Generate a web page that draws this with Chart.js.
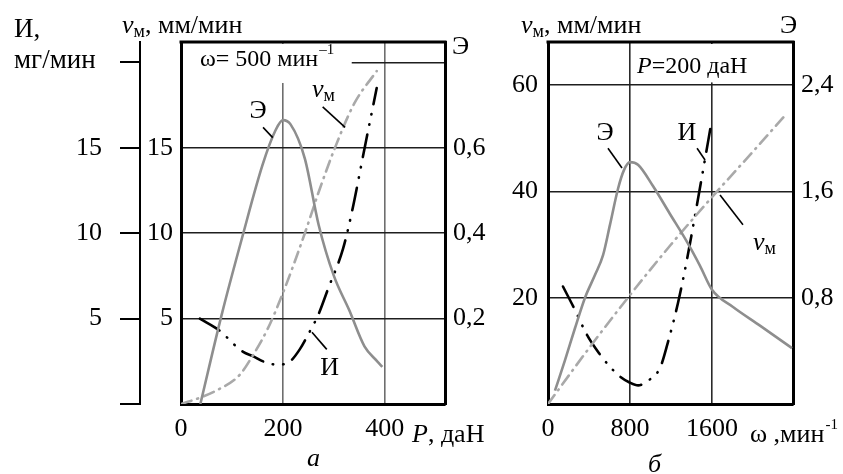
<!DOCTYPE html>
<html><head><meta charset="utf-8">
<script src="https://cdn.jsdelivr.net/npm/chart.js@4.4.1/dist/chart.umd.min.js"></script>
<style>
html,body{margin:0;padding:0;background:#fff;}
#wrap{position:relative;width:843px;height:474px;overflow:hidden;background:#fff;}
#chartA{position:absolute;left:0;top:0;}
#chartB{position:absolute;left:500px;top:0;}
</style></head><body>
<div id="wrap">
<canvas id="chartA" width="500" height="474"></canvas>
<canvas id="chartB" width="343" height="474"></canvas>
</div>
<script>
// ---------- Chart а : ω = 500 мин^-1, x = P, даН ----------
const aLoadE  = [38, 80, 120, 160, 185, 200, 215, 243, 270, 300, 330, 360, 385, 395];
const aEnergy = [0, 0.21, 0.39, 0.56, 0.64, 0.665, 0.655, 0.575, 0.42, 0.30, 0.22, 0.135, 0.10, 0.087];
const aLoadV  = [0, 40, 70, 115, 140, 170, 200, 243, 270, 302, 340, 384];
const aSpeed  = [0, 0.4, 0.8, 1.7, 2.8, 4.4, 6.5, 10, 12.4, 15, 17.6, 19.5];
const aLoadW  = [37, 80, 100, 122, 141, 165, 190, 214, 233, 250, 269, 288, 318, 335, 361, 384];
const aWear   = [5, 4.2, 3.6, 3.05, 2.8, 2.45, 2.3, 2.5, 3.2, 4.1, 5.2, 6.7, 9.1, 11.2, 15.1, 18.5];
const aXTicks = [0, 200, 400];
const aYTicks = [0, 5, 10, 15, 20];
const aETicks = [0.2, 0.4, 0.6];

// ---------- Chart б : P = 200 даН, x = ω, мин^-1 ----------
const bRpmE   = [68, 166, 263, 361, 458, 537, 605, 683, 741, 800, 878, 1024, 1190, 1356, 1483, 1600, 1805, 2068, 2380];
const bEnergy = [0.10, 0.33, 0.57, 0.80, 0.97, 1.12, 1.35, 1.62, 1.76, 1.82, 1.80, 1.64, 1.43, 1.22, 1.04, 0.86, 0.73, 0.59, 0.42];
const bRpmV   = [0, 400, 800, 1200, 1650, 2000, 2300];
const bSpeed  = [0, 10.5, 20.5, 30, 40, 47.5, 54];
const bRpmW   = [146, 263, 380, 500, 605, 700, 800, 880, 960, 1093, 1171, 1268, 1356, 1430, 1502, 1590];
const bWear   = [22.1, 17.7, 13, 9.5, 7, 5.2, 4, 3.5, 4.2, 6.8, 11.7, 19, 27.2, 35, 42.8, 52.5];
const bXTicks = [0, 800, 1600];
const bYTicks = [0, 20, 40, 60];
const bETicks = [0.8, 1.6, 2.4];

const FAM = '"Liberation Serif", "Times New Roman", serif';
const R = '26px ' + FAM, I = 'italic 26px ' + FAM, SUB = '18px ' + FAM;
const RB = '24px ' + FAM, IB = 'italic 24px ' + FAM, SUP = '15px ' + FAM;
const tickFont = {family: FAM, size: 26};

const pts = (xs, ys) => xs.map((x, i) => ({x, y: ys[i]}));
const fixTicks = vals => s => { s.ticks = vals.map(v => ({value: v})); };
const comma = v => Number(v).toFixed(1).replace('.', ',');

const styleE = {borderColor:'#8e8e8e', borderWidth:2.6, pointRadius:0, cubicInterpolationMode:'monotone', fill:false};
const styleV = {borderColor:'#a9a9a9', borderWidth:2.6, pointRadius:0, cubicInterpolationMode:'monotone', fill:false, borderDash:[11,6,1,6], borderCapStyle:'round'};
const styleW = {borderColor:'#000', borderWidth:2.6, pointRadius:0, cubicInterpolationMode:'monotone', fill:false, borderDash:[23,10,0.5,10,0.5,10], borderCapStyle:'round'};

function runs(ctx, x, y, parts) {
  let cx = x;
  for (const [t, f, dy] of parts) {
    ctx.font = f; ctx.fillText(t, cx, y + (dy || 0));
    cx += ctx.measureText(t).width;
  }
  return cx;
}
function runsWidth(ctx, parts) {
  let w = 0;
  for (const [t, f] of parts) { ctx.font = f; w += ctx.measureText(t).width; }
  return w;
}

// annotation positions (data units)
const aLabels = [
  {parts:[['Э', R]], x:151, y:16.75, center:true},
  {parts:[['v', I], ['м', SUB, 4]], x:257, y:18.0},
  {parts:[['И', R]], x:273, y:1.7}
];
const aLeaders = [[161,16.2,180,15.6],[278,17.4,322,16.2],[257,4.2,286,3.2]];
const bLabels = [
  {parts:[['Э', R]], x:556, y:49.7, center:true},
  {parts:[['И', R]], x:1356, y:49.7, center:true},
  {parts:[['v', I], ['м', SUB, 4]], x:2000, y:29.0}
];
const bLeaders = [[585,48.1,722,44.4],[1454,48.1,1532,45.9],[1678,39.3,1902,33.7]];

function makeDeco(cfg) {
  return {
    id: 'deco' + cfg.name,
    beforeDatasetsDraw(chart) {
      const {ctx, chartArea: ca} = chart;
      const xs = chart.scales.x, ys = chart.scales.y;
      ctx.save();
      // white box behind in-plot caption
      const bx1 = cfg.boxX1 != null ? xs.getPixelForValue(cfg.boxX1) : ca.left + 2;
      const bx2 = cfg.boxX2 != null ? xs.getPixelForValue(cfg.boxX2) : ca.right - 2;
      const by2 = ys.getPixelForValue(cfg.boxY);
      ctx.fillStyle = '#fff';
      ctx.fillRect(bx1, ca.top + 2, bx2 - bx1, by2 - ca.top - 2);
      // top frame line
      ctx.strokeStyle = '#000'; ctx.lineWidth = 3;
      ctx.beginPath(); ctx.moveTo(ca.left - 1.5, ca.top); ctx.lineTo(ca.right + 1.5, ca.top); ctx.stroke();
      ctx.restore();
    },
    afterDatasetsDraw(chart) {
      const {ctx, chartArea: ca} = chart;
      const xs = chart.scales.x, ys = chart.scales.y;
      ctx.save();
      ctx.fillStyle = '#000'; ctx.textAlign = 'left'; ctx.textBaseline = 'alphabetic';
      // leaders
      ctx.strokeStyle = '#000'; ctx.lineWidth = 1.6;
      for (const [x1, y1, x2, y2] of cfg.leaders) {
        ctx.beginPath();
        ctx.moveTo(xs.getPixelForValue(x1), ys.getPixelForValue(y1));
        ctx.lineTo(xs.getPixelForValue(x2), ys.getPixelForValue(y2));
        ctx.stroke();
      }
      for (const L of cfg.labels) {
        let px = xs.getPixelForValue(L.x);
        if (L.center) px -= runsWidth(ctx, L.parts) / 2;
        runs(ctx, px, ys.getPixelForValue(L.y), L.parts);
      }
      cfg.texts(ctx, ca, xs, ys);
      ctx.restore();
    }
  };
}

const decoA = makeDeco({
  name: 'A', boxX1: null, boxX2: 335, boxY: 18.8,
  labels: aLabels, leaders: aLeaders,
  texts(ctx, ca, xs, ys) {
    runs(ctx, 14, 37, [['И,', '27px ' + FAM]]);
    runs(ctx, 14, 68, [['мг/мин', '27px ' + FAM]]);
    runs(ctx, 122, 33, [['v', I], ['м', SUB, 4], [', мм/мин', R]]);
    runs(ctx, 452, 54, [['Э', R]]);
    const e = runs(ctx, ca.left + 19, ca.top + 24, [['ω= 500 мин', RB]]);
    runs(ctx, e + 1, ca.top + 12, [['–1', SUP]]);
    runs(ctx, 412, 442, [['P', I], [', даН', R]]);
    runs(ctx, 307, 466, [['a', I]]);
  }
});

const decoB = makeDeco({
  name: 'B', boxX1: 820, boxX2: null, boxY: 60.5,
  labels: bLabels, leaders: bLeaders,
  texts(ctx, ca, xs, ys) {
    runs(ctx, 21, 33, [['v', I], ['м', SUB, 4], [', мм/мин', R]]);
    runs(ctx, 280, 33, [['Э', R]]);
    runs(ctx, 137, 73, [['P', IB], ['=200 даН', RB]]);
    const e = runs(ctx, 250, 442, [['ω ,мин', R]]);
    runs(ctx, e + 1, 429, [['-1', SUP]]);
    runs(ctx, 148, 472, [['б', I]]);
  }
});

function buildChart(el, c) {
  return new Chart(el, {
    type: 'line',
    data: { datasets: c.datasets },
    options: {
      responsive: false, animation: false,
      layout: {padding: {top: 42, left: 0, right: 0, bottom: 0}},
      plugins: {legend: {display: false}, tooltip: {enabled: false}},
      scales: c.scales
    },
    plugins: [c.deco]
  });
}

const gridH = {color: ctx => (ctx.tick && ctx.tick.value === 0) ? 'rgba(0,0,0,0)' : '#1e1e1e', lineWidth: 1.6, drawTicks: false};
const gridV = col => ({color: ctx => (ctx.tick && ctx.tick.value === 0) ? 'rgba(0,0,0,0)' : col, lineWidth: 1.6, drawTicks: false});

buildChart(document.getElementById('chartA'), {
  deco: decoA,
  datasets: [
    Object.assign({label: 'Э', data: pts(aLoadE, aEnergy), yAxisID: 'yE'}, styleE),
    Object.assign({label: 'vм', data: pts(aLoadV, aSpeed), yAxisID: 'y'}, styleV),
    Object.assign({label: 'И', data: pts(aLoadW, aWear), yAxisID: 'yI'}, styleW)
  ],
  scales: {
    x: {type: 'linear', position: 'bottom', min: 0, max: 518, afterBuildTicks: fixTicks(aXTicks),
        ticks: {font: tickFont, color: '#000', padding: 10, maxRotation: 0, callback: v => String(v)},
        grid: gridV('#6e6e6e'), border: {color: '#000', width: 3},
        afterFit: s => { s.height = 70; }},
    y: {type: 'linear', position: 'left', weight: 0, min: 0, max: 21.2, afterBuildTicks: fixTicks(aYTicks),
        ticks: {font: tickFont, color: '#000', padding: 8, callback: v => (v === 0 || v === 20) ? '' : String(v)},
        grid: gridH, border: {color: '#000', width: 3},
        afterFit: s => { s.width = 41; }},
    yI: {type: 'linear', position: 'left', weight: 1, min: 0, max: 21.2, afterBuildTicks: fixTicks(aYTicks),
        ticks: {font: tickFont, color: '#000', padding: 18, callback: v => (v === 0 || v === 20) ? '' : String(v)},
        grid: {drawOnChartArea: false, drawTicks: true, tickLength: 20, color: '#000', lineWidth: 2},
        border: {color: '#000', width: 2},
        afterFit: s => { s.width = 140; }},
    yE: {type: 'linear', position: 'right', min: 0, max: 0.848, afterBuildTicks: fixTicks(aETicks),
        ticks: {font: tickFont, color: '#000', padding: 8, callback: v => comma(v)},
        grid: {drawOnChartArea: false, drawTicks: false}, border: {color: '#000', width: 3},
        afterFit: s => { s.width = 55; }}
  }
});

buildChart(document.getElementById('chartB'), {
  deco: decoB,
  datasets: [
    Object.assign({label: 'Э', data: pts(bRpmE, bEnergy), yAxisID: 'yE'}, styleE),
    Object.assign({label: 'vм', data: pts(bRpmV, bSpeed), yAxisID: 'y'}, styleV),
    Object.assign({label: 'И', data: pts(bRpmW, bWear), yAxisID: 'y'}, styleW)
  ],
  scales: {
    x: {type: 'linear', position: 'bottom', min: 0, max: 2390, afterBuildTicks: fixTicks(bXTicks),
        ticks: {font: tickFont, color: '#000', padding: 10, maxRotation: 0, callback: v => String(v)},
        grid: gridV('#2a2a2a'), border: {color: '#000', width: 3},
        afterFit: s => { s.height = 70; }},
    y: {type: 'linear', position: 'left', min: 0, max: 68.1, afterBuildTicks: fixTicks(bYTicks),
        ticks: {font: tickFont, color: '#000', padding: 10, callback: v => v === 0 ? '' : String(v)},
        grid: gridH, border: {color: '#000', width: 3},
        afterFit: s => { s.width = 48; }},
    yE: {type: 'linear', position: 'right', min: 0, max: 2.724, afterBuildTicks: fixTicks(bETicks),
        ticks: {font: tickFont, color: '#000', padding: 8, callback: v => comma(v)},
        grid: {drawOnChartArea: false, drawTicks: false}, border: {color: '#000', width: 3},
        afterFit: s => { s.width = 50; }}
  }
});
</script>
</body></html>
